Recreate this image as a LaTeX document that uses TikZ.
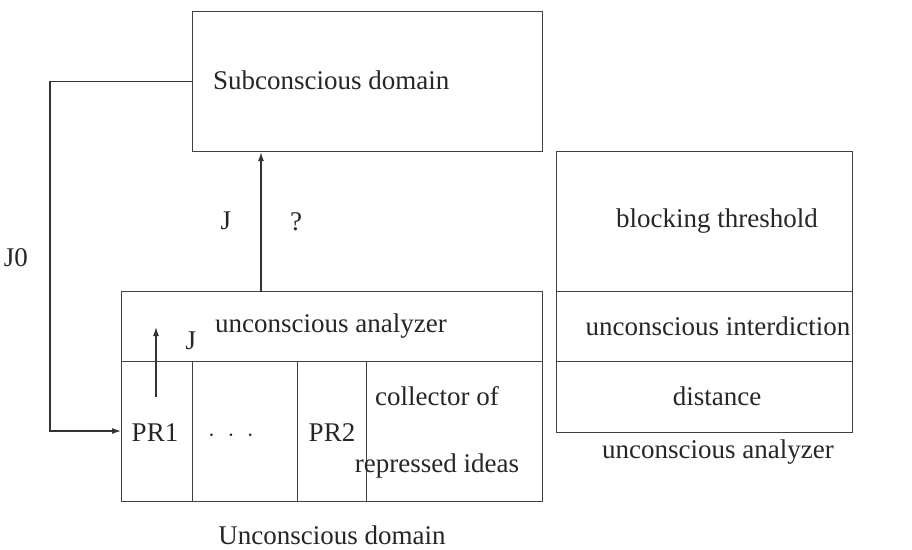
\documentclass[tikz,border=0pt]{standalone}
\usepackage{fontspec}
\setmainfont{Liberation Serif}
\usetikzlibrary{arrows.meta}

\begin{document}
\begin{tikzpicture}[x=1pt, y=-1pt,
  box/.style={draw=black!75, line width=1.2pt, inner sep=0pt, anchor=north west},
  txt/.style={font=\fontsize{27}{30}\selectfont, text=black!85, inner sep=0pt, anchor=base},
  arr/.style={draw=black!80, line width=1.2pt, -{Latex[length=9pt,width=6pt]}}]
\useasboundingbox (0,0) rectangle (912,549);
% top box
\node[box, minimum width=350pt, minimum height=140pt] (sub) at (192,11) {};
\node[txt, anchor=base west] (subt) at (213,89) {Subconscious domain};
% unconscious domain
\node[box, minimum width=421pt, minimum height=70pt] (ua) at (121,291) {};
\node[box, minimum width=71pt, minimum height=140pt] (pr1) at (121,361) {};
\node[box, minimum width=105pt, minimum height=140pt] (dots) at (192,361) {};
\node[box, minimum width=69pt, minimum height=140pt] (pr2) at (297,361) {};
\node[box, minimum width=176pt, minimum height=140pt] (coll) at (366,361) {};
\node[txt] (uat) at (331,332) {unconscious analyzer};
\node[txt] (pr1t) at (155,441) {PR1};
\node[txt] (dotst) at (231,441) {$\cdot\;\cdot\;\cdot$};
\node[txt] (pr2t) at (332,441) {PR2};
\node[txt] (collt) at (437,405) {collector of};
\node[txt] (rept) at (437,472) {repressed ideas};
\node[txt] (udom) at (332,544) {Unconscious domain};
% right box
\node[box, minimum width=296pt, minimum height=140pt] (thr) at (556,151) {};
\node[box, minimum width=296pt, minimum height=70pt] (intd) at (556,291) {};
\node[box, minimum width=296pt, minimum height=71pt] (dist) at (556,361) {};
\node[txt] (thrt) at (717,227) {blocking threshold};
\node[txt] (intdt) at (718,335) {unconscious interdiction};
\node[txt] (distt) at (717,405) {distance};
\node[txt] (uat2) at (718,458) {unconscious analyzer};
% arrows
\coordinate (jbase) at (261,291);
\draw[arr] (jbase) -- (jbase |- sub.south);
\node[txt] (jl) at (226,229) {J};
\node[txt] (ql) at (296,230) {?};
\coordinate (jcorner) at (50,431);
\draw[arr] (sub.west) -| (jcorner) -- (jcorner -| pr1.west);
\node[txt] (j0) at (16,266) {J0};
\coordinate (pbase) at (156,397);
\coordinate (ptip) at (156,327);
\draw[arr] (pbase) -- (ptip);
\node[txt] (jp) at (191,349) {J};
\end{tikzpicture}
\end{document}
